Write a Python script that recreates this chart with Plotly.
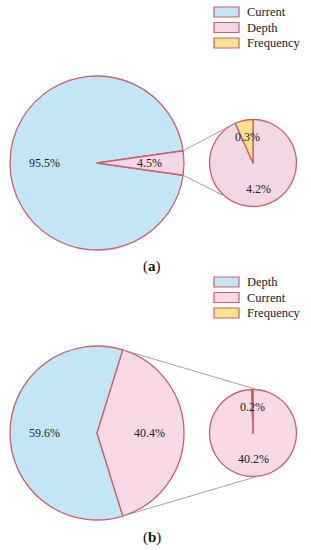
import math
import plotly.graph_objects as go

# ---------------- data ----------------
a_main_labels = ["Current", "Depth"]
a_main_values = [95.5, 4.5]
a_sub_labels = ["Depth", "Frequency"]
a_sub_values = [4.2, 0.3]

b_main_labels = ["Depth", "Current"]
b_main_values = [59.6, 40.4]
b_sub_labels = ["Current", "Frequency"]
b_sub_values = [40.2, 0.2]

legend_a = ["Current", "Depth", "Frequency"]
legend_b = ["Depth", "Current", "Frequency"]
panel_titles = ["a", "b"]

# ---------------- style / layout ----------------
W, H = 311, 550
BLUE = "#C2E6F5"
PINK_A = "#F3D7E4"
PINK_B = "#F9D9E5"
YELLOW = "#FBE28E"
EDGE = "#C9606B"
GREY = "#A3A3A3"
FONT = "Liberation Serif"

colors_a = {"Current": BLUE, "Depth": PINK_A, "Frequency": YELLOW}
colors_b = {"Depth": BLUE, "Current": PINK_B, "Frequency": YELLOW}

panels = [
    dict(main_l=a_main_labels, main_v=a_main_values, sub_l=a_sub_labels, sub_v=a_sub_values,
         colors=colors_a, legend=legend_a, title=panel_titles[0],
         cy=163, legend_y=12, title_y=266, sub_conn=(335, 220)),
    dict(main_l=b_main_labels, main_v=b_main_values, sub_l=b_sub_labels, sub_v=b_sub_values,
         colors=colors_b, legend=legend_b, title=panel_titles[1],
         cy=433, legend_y=282, title_y=537, sub_conn=(6, 174)),
]
MAIN_CX, MAIN_R = 97, 87
SUB_CX, SUB_R = 253, 43.5


def px(x, y):
    """pixel -> paper fraction"""
    return x / W, 1 - y / H


def polar(cx, cy, r, ang):
    a = math.radians(ang)
    return cx + r * math.sin(a), cy - r * math.cos(a)


def dom(cx, cy, r):
    x0, y1 = px(cx - r, cy - r)
    x1, y0 = px(cx + r, cy + r)
    return dict(x=[x0, x1], y=[y0, y1])


def label(x, y, text, size=12, anchor="center", color="#222"):
    X, Y = px(x, y)
    return dict(x=X, y=Y, xref="paper", yref="paper", text=text, showarrow=False,
                xanchor=anchor, yanchor="middle",
                font=dict(family=FONT, size=size, color=color))


fig = go.Figure()
shapes, annotations = [], []

for p in panels:
    cy = p["cy"]
    mv = p["main_v"]
    tot = sum(mv)
    a0 = mv[0] / tot * 360
    a1 = mv[1] / tot * 360
    rot = 90 - a0 - a1 / 2
    # main pie
    fig.add_trace(go.Pie(
        labels=p["main_l"], values=mv, sort=False, direction="clockwise", rotation=rot,
        marker=dict(colors=[p["colors"][l] for l in p["main_l"]], line=dict(color=EDGE, width=1.3)),
        textinfo="none", showlegend=False, hoverinfo="label+value",
        domain=dom(MAIN_CX, cy, MAIN_R),
    ))
    # sub pie
    sv = p["sub_v"]
    stot = sum(sv)
    fig.add_trace(go.Pie(
        labels=p["sub_l"], values=sv, sort=False, direction="clockwise", rotation=0,
        marker=dict(colors=[p["colors"][l] for l in p["sub_l"]], line=dict(color=EDGE, width=1.3)),
        textinfo="none", showlegend=False, hoverinfo="label+value",
        domain=dom(SUB_CX, cy, SUB_R),
    ))

    # percent labels, at 0.6 r along each slice's mid angle
    start = rot
    for v in mv:
        ang = v / tot * 360
        x, y = polar(MAIN_CX, cy, 0.6 * MAIN_R, start + ang / 2)
        annotations.append(label(x, y, f"{v}%"))
        start += ang
    start = 0
    for v in sv:
        ang = v / stot * 360
        x, y = polar(SUB_CX, cy, 0.6 * SUB_R, start + ang / 2)
        annotations.append(label(x, y, f"{v}%"))
        start += ang

    # connector lines
    e_top = polar(MAIN_CX, cy, MAIN_R, rot + a0)
    e_bot = polar(MAIN_CX, cy, MAIN_R, rot + 360)
    s_top = polar(SUB_CX, cy, SUB_R, p["sub_conn"][0])
    s_bot = polar(SUB_CX, cy, SUB_R, p["sub_conn"][1])
    for (x0, y0), (x1, y1) in [(e_top, s_top), (e_bot, s_bot)]:
        X0, Y0 = px(x0, y0)
        X1, Y1 = px(x1, y1)
        shapes.append(dict(type="line", xref="paper", yref="paper", x0=X0, y0=Y0, x1=X1, y1=Y1,
                           line=dict(color=GREY, width=1)))

    # legend
    for i, lab in enumerate(p["legend"]):
        yc = p["legend_y"] + i * 15.5
        X0, Y0 = px(214, yc + 5)
        X1, Y1 = px(239, yc - 5)
        shapes.append(dict(type="rect", xref="paper", yref="paper", x0=X0, y0=Y0, x1=X1, y1=Y1,
                           fillcolor=p["colors"][lab], line=dict(color=EDGE, width=1.2)))
        annotations.append(label(245, yc, lab, size=12.5, anchor="left"))

    # panel title
    annotations.append(label(152, p["title_y"], f"(<b>{p['title']}</b>)", size=15, color="#111"))

fig.update_layout(
    width=W, height=H, margin=dict(l=0, r=0, t=0, b=0),
    paper_bgcolor="white", plot_bgcolor="white",
    shapes=shapes, annotations=annotations, showlegend=False,
)
fig.write_html("out.html", config={"displayModeBar": False},
               post_script="document.body.style.margin='0';document.body.style.overflow='hidden';")
